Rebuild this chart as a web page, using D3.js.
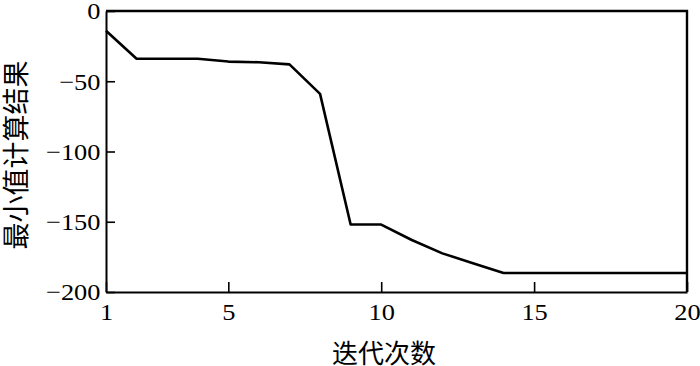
<!DOCTYPE html>
<html>
<head>
    <meta charset="utf-8">
    <title>最小值计算结果</title>
    <style>
        body { margin: 0; background: #fff; }
    </style>
</head>
<body>
    <svg width="700" height="366"></svg>
    <script src="https://d3js.org/d3.v7.min.js"></script>
    <script>
        // 迭代次数 / 最小值计算结果
        const iterations = [1, 2, 3, 4, 5, 6, 7, 8, 9, 10, 11, 12, 13, 14, 15, 16, 17, 18, 19, 20];
        const minValues = [-14, -34, -34, -34, -36, -36.5, -38, -59, -152, -152, -163, -172.5, -179.5, -186.5, -186.5, -186.5, -186.5, -186.5, -186.5, -186.5];
        const xTicks = [1, 5, 10, 15, 20];
        const yTicks = [0, -50, -100, -150, -200];
        const xTitle = '迭代次数';
        const yTitle = '最小值计算结果';

        const serif = '"Liberation Serif", "DejaVu Serif", serif';
        const cjk = '"Noto Sans CJK SC", sans-serif';

        const svg = d3.select('svg');
        const margin = { top: 11, right: 13, bottom: 74, left: 106 };
        const width = +svg.attr('width');
        const height = +svg.attr('height');
        const innerWidth = width - margin.left - margin.right;
        const innerHeight = height - margin.top - margin.bottom;

        const x = d3.scaleLinear().domain([1, 20]).range([0, innerWidth]);
        const y = d3.scaleLinear().domain([-200, 0]).range([innerHeight, 0]);

        const g = svg.append('g').attr('transform', `translate(${margin.left},${margin.top})`);

        const fmt = d => d < 0 ? '\u2212' + Math.abs(d) : String(d);

        // bottom axis, ticks point inward
        const xAxis = g.append('g')
            .attr('transform', `translate(0,${innerHeight})`)
            .call(d3.axisBottom(x).tickValues(xTicks).tickSizeInner(-10).tickSizeOuter(0).tickPadding(11).tickFormat(fmt));
        // left axis, ticks point inward
        const yAxis = g.append('g')
            .call(d3.axisLeft(y).tickValues(yTicks).tickSizeInner(-9).tickSizeOuter(0).tickPadding(5).tickFormat(fmt));

        [xAxis, yAxis].forEach(a => {
            a.attr('font-family', null);
            a.select('.domain').attr('stroke', '#000').attr('stroke-width', 2);
            a.selectAll('.tick line').attr('stroke', '#000').attr('stroke-width', 1.6);
            // the source glyphs are a bit stretched sideways
            a.selectAll('.tick text')
                .style('font-family', serif)
                .style('font-size', '24px')
                .attr('fill', '#000')
                .attr('transform', 'scale(1.1,1)');
        });
        xAxis.selectAll('.tick text').attr('dy', '0.7em');
        yAxis.selectAll('.tick text').attr('dy', '0.33em');

        // top and right frame
        g.append('path')
            .attr('d', `M0,0H${innerWidth}V${innerHeight}`)
            .attr('fill', 'none')
            .attr('stroke', '#000')
            .attr('stroke-width', 2.4);

        const line = d3.line()
            .x((d, i) => x(iterations[i]))
            .y(d => y(d));

        g.append('path')
            .datum(minValues)
            .attr('d', line)
            .attr('fill', 'none')
            .attr('stroke', '#000')
            .attr('stroke-width', 2.6)
            .attr('stroke-linejoin', 'round');

        svg.append('text')
            .attr('x', 384)
            .attr('y', 351)
            .attr('text-anchor', 'middle')
            .attr('dominant-baseline', 'central')
            .style('font-family', cjk)
            .style('font-size', '26px')
            .text(xTitle);

        svg.append('text')
            .attr('transform', 'translate(14,155) rotate(-90)')
            .attr('text-anchor', 'middle')
            .attr('dominant-baseline', 'central')
            .style('font-family', cjk)
            .style('font-size', '27px')
            .text(yTitle);
    </script>
</body>
</html>
